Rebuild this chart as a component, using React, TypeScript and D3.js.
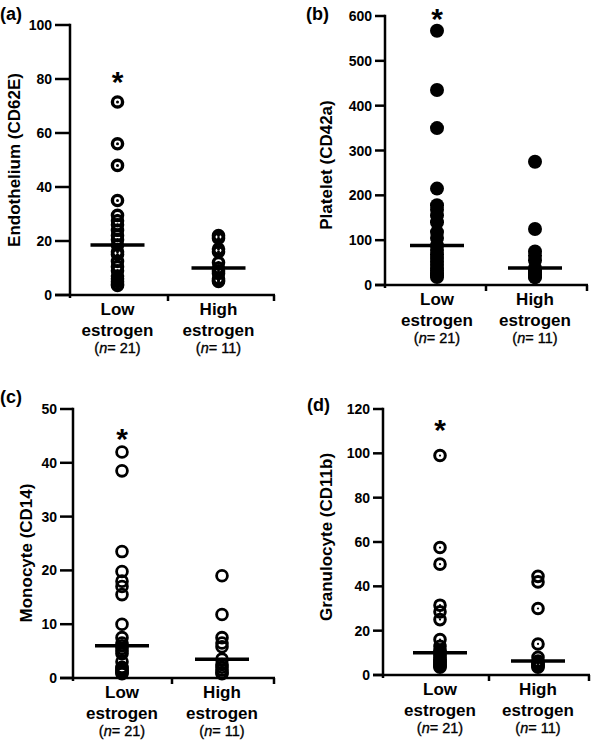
import React from "react";
import * as d3 from "d3";

const categories = ["Low estrogen", "High estrogen"];
const groupNs = [21, 11];
const panelLabels = ["(a)", "(b)", "(c)", "(d)"];
const yTitles = ["Endothelium (CD62E)", "Platelet (CD42a)", "Monocyte (CD14)", "Granulocyte (CD11b)"];
const yMaxes = [100, 600, 50, 120];
const yTickSteps = [20, 100, 10, 20];
const starValues = [81.5, 610, 45.7, 113.7];
const markerKinds = ["bullseye", "filled", "open", "dot"];

// (a) Endothelium
const lowA = [71.5, 56, 48, 35, 29.5, 27.5, 26, 24, 22, 20.5, 18.5, 16, 15, 12.5, 10.5, 9, 7, 6, 5, 4, 3.5];
const highA = [22, 21, 17, 16, 12, 10, 9, 8, 6, 5.5, 5];
// (b) Platelet
const lowB = [567, 435, 350, 215, 178, 168, 155, 140, 118, 105, 88, 78, 68, 60, 52, 45, 38, 32, 27, 22, 18];
const highB = [275, 125, 75, 65, 55, 38, 32, 28, 24, 20, 17];
// (c) Monocyte
const lowC = [42, 38.5, 23.5, 19.8, 18, 17, 15.5, 10, 7.5, 6.5, 6, 5.5, 5, 4.5, 3, 2, 1.8, 1.5, 1.2, 1, 0.8];
const highC = [19, 11.8, 7.5, 6.5, 5.8, 3.5, 2.5, 2, 1.5, 1, 0.8];
// (d) Granulocyte
const lowD = [99, 57.5, 50, 31.5, 28.5, 25, 16, 13, 11, 10.5, 10, 9, 8, 7, 6.5, 6, 5.5, 5, 4.5, 4, 3.5];
const highD = [44.5, 42, 30, 14, 8, 6.3, 5.5, 5, 4.5, 4, 3.5];

const panelData = [
  [lowA, highA],
  [lowB, highB],
  [lowC, highC],
  [lowD, highD],
];

const layouts = [
  { axisX: 70, yTop: 25, y0: 295, band: [67, 269], axisEnd: 275, tickLen: 15, labelX: 0, labelY: 20, titleX: 20, titleY: 160 },
  { axisX: 385, yTop: 16, y0: 285, band: [388, 584], axisEnd: 588, tickLen: 10, labelX: 306, labelY: 20, titleX: 332, titleY: 165 },
  { axisX: 73, yTop: 409, y0: 678, band: [72, 272], axisEnd: 275, tickLen: 13, labelX: 0, labelY: 403, titleX: 32, titleY: 553 },
  { axisX: 383, yTop: 409, y0: 675, band: [391, 587], axisEnd: 590, tickLen: 10, labelX: 307, labelY: 411, titleX: 332, titleY: 537 },
];

const FONT = "'Liberation Sans', Arial, sans-serif";

function Marker({ kind, cx, cy }: { kind: string; cx: number; cy: number }) {
  if (kind === "filled") return <circle cx={cx} cy={cy} r={7} fill="#000" />;
  if (kind === "open")
    return <circle cx={cx} cy={cy} r={5.4} fill="none" stroke="#000" strokeWidth={2.8} />;
  if (kind === "bullseye")
    return (
      <g>
        <circle cx={cx} cy={cy} r={5.1} fill="none" stroke="#000" strokeWidth={3.4} />
        <circle cx={cx} cy={cy} r={1.5} fill="#000" />
      </g>
    );
  return (
    <g>
      <circle cx={cx} cy={cy} r={5.3} fill="none" stroke="#000" strokeWidth={3} />
      <circle cx={cx} cy={cy} r={1.1} fill="#000" />
    </g>
  );
}

function Panel({ i }: { i: number }) {
  const L = layouts[i];
  const y = d3.scaleLinear().domain([0, yMaxes[i]]).range([L.y0, L.yTop]);
  const x = d3.scaleBand().domain(categories).range(L.band as [number, number]);
  const ticks = d3.range(0, yMaxes[i] + yTickSteps[i] / 2, yTickSteps[i]);
  const groups = panelData[i];
  const divider = x(categories[1])!;
  return (
    <g fontFamily={FONT}>
      <text x={L.labelX} y={L.labelY} fontSize={18} fontWeight="bold">{panelLabels[i]}</text>
      {/* y axis */}
      <line x1={L.axisX} x2={L.axisX} y1={L.yTop - 1.25} y2={L.y0 + 3} stroke="#000" strokeWidth={2.5} />
      {ticks.map((t) => (
        <g key={t}>
          <line x1={L.axisX - L.tickLen} x2={L.axisX} y1={y(t)} y2={y(t)} stroke="#000" strokeWidth={2.5} />
          <text x={L.axisX - L.tickLen - 3} y={y(t)} dy="0.36em" textAnchor="end" fontSize={14} fontWeight="bold">
            {t}
          </text>
        </g>
      ))}
      {/* x axis */}
      <line x1={L.axisX - L.tickLen} x2={L.axisEnd} y1={L.y0} y2={L.y0} stroke="#000" strokeWidth={2.5} />
      {[divider, L.axisEnd - 1].map((tx, k) => (
        <line key={k} x1={tx} x2={tx} y1={L.y0} y2={L.y0 + 6} stroke="#000" strokeWidth={2.5} />
      ))}
      {/* y title */}
      <text
        transform={`translate(${L.titleX},${L.titleY}) rotate(-90)`}
        textAnchor="middle"
        fontSize={17}
        fontWeight="bold"
      >
        {yTitles[i]}
      </text>
      {/* category labels */}
      {categories.map((c, k) => {
        const cx = x(c)! + x.bandwidth() / 2;
        const words = c.split(" ");
        return (
          <g key={c}>
            <text x={cx} y={L.y0 + 20} textAnchor="middle" fontSize={17} fontWeight="bold">{words[0]}</text>
            <text x={cx} y={L.y0 + 41} textAnchor="middle" fontSize={17} fontWeight="bold">{words[1]}</text>
            <text x={cx} y={L.y0 + 58} textAnchor="middle" fontSize={14.5} stroke="#000" strokeWidth={0.35}>
              (<tspan fontStyle="italic">n</tspan>= {groupNs[k]})
            </text>
          </g>
        );
      })}
      {/* points */}
      {groups.map((vals, k) => {
        const cx = x(categories[k])! + x.bandwidth() / 2;
        return (
          <g key={k}>
            {vals.map((v, j) => (
              <Marker key={j} kind={markerKinds[i]} cx={cx} cy={y(v)} />
            ))}
            <line
              x1={cx - 27}
              x2={cx + 27}
              y1={y(d3.median(vals)!)}
              y2={y(d3.median(vals)!)}
              stroke="#000"
              strokeWidth={3.5}
            />
          </g>
        );
      })}
      {/* significance asterisk */}
      <text
        x={x(categories[0])! + x.bandwidth() / 2}
        y={y(starValues[i]) + 17}
        textAnchor="middle"
        fontSize={30}
        fontWeight="bold"
      >
        *
      </text>
    </g>
  );
}

export default function App() {
  return (
    <svg
      width={591}
      height={742}
      style={{ position: "absolute", left: 0, top: 0, background: "#fff" }}
    >
      <rect width={591} height={742} fill="#fff" />
      {[0, 1, 2, 3].map((i) => (
        <Panel key={i} i={i} />
      ))}
    </svg>
  );
}
